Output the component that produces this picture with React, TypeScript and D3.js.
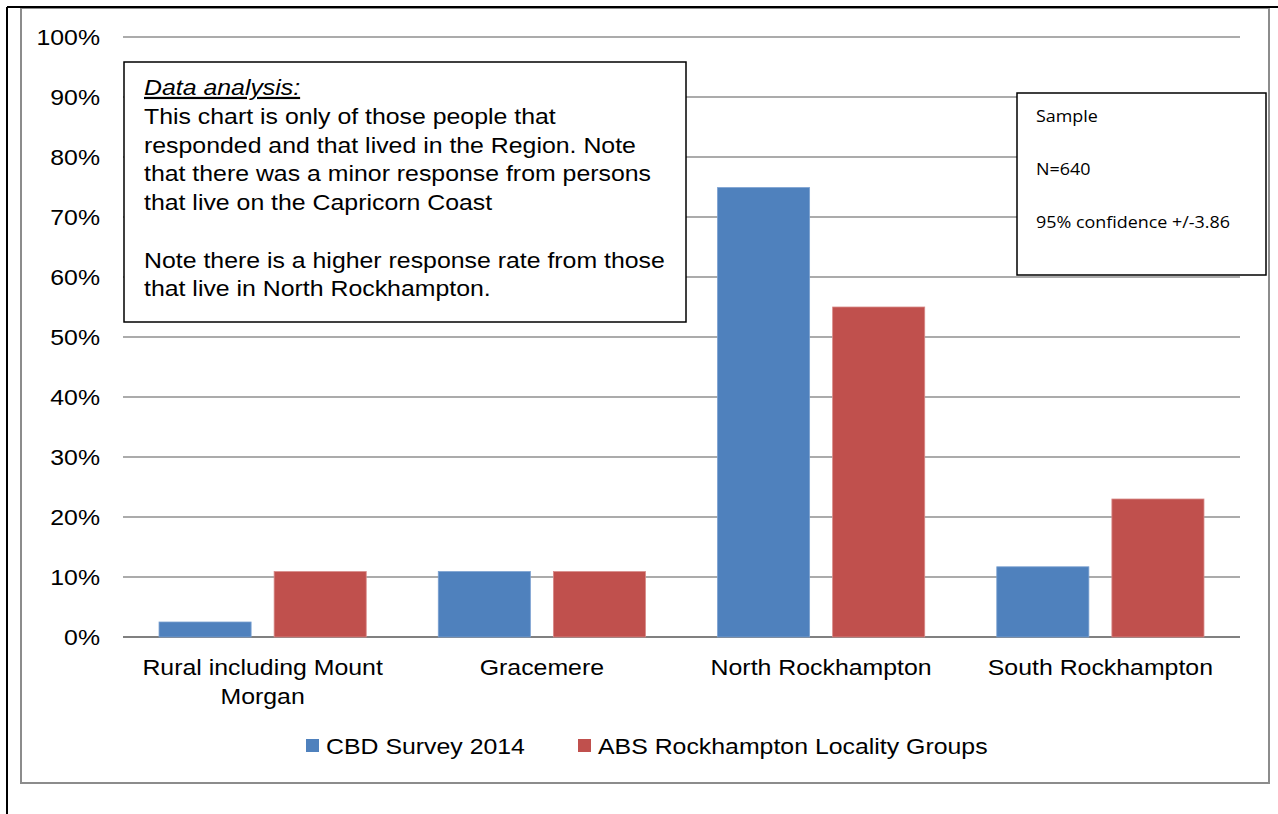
import React from "react";
import * as d3 from "d3";

const categories = ["Rural including Mount Morgan", "Gracemere", "North Rockhampton", "South Rockhampton"];
const categoryLines = [["Rural including Mount", "Morgan"], ["Gracemere"], ["North Rockhampton"], ["South Rockhampton"]];
const seriesNames = ["CBD Survey 2014", "ABS Rockhampton Locality Groups"];
const cbdSurvey = [2.5, 10.9, 74.9, 11.7];
const absLocality = [10.9, 10.9, 55.0, 23.0];
const yTicks = [0, 10, 20, 30, 40, 50, 60, 70, 80, 90, 100];
const colors = ["#4F81BD", "#C0504D"];
const noteLines = [
  "This chart is only of those people that",
  "responded and that lived in the Region. Note",
  "that there was a minor response from persons",
  "that live on the Capricorn Coast",
  "",
  "Note there is a higher response rate from those",
  "that live in North Rockhampton.",
];
const sampleLines = ["Sample", "N=640", "95% confidence +/-3.86"];

const SX = 1.13;

function T(props: any) {
  const { x, y, sx = SX, children, ...rest } = props;
  return (
    <text transform={`translate(${x},${y}) scale(${sx},1)`} x={0} y={0} {...rest}>
      {children}
    </text>
  );
}

export default function App() {
  const W = 1278, H = 814;
  const x0 = 123, x1 = 1240, yTop = 37, yBot = 637;
  const y = d3.scaleLinear().domain([0, 100]).range([yBot, yTop]);
  const xb = d3.scaleBand().domain(categories).range([x0, x1]).paddingInner(0).paddingOuter(0);
  const xs = d3.scaleBand().domain(seriesNames).range([0, xb.bandwidth()]).paddingInner(0.2).paddingOuter(0.313);
  const series = [cbdSurvey, absLocality];
  const font = "'Liberation Sans', Arial, sans-serif";

  return (
    <svg width={W} height={H} style={{ position: "absolute", left: 0, top: 0, background: "#fff" }} fontFamily={font}>
      <rect x={0} y={0} width={W} height={H} fill="#fff" />
      {/* chart border */}
      <rect x={21} y={8} width={1248} height={775} fill="none" stroke="#8c8c8c" strokeWidth={2} />
      {/* page frame */}
      <line x1={7} y1={7} x2={W} y2={7} stroke="#000" strokeWidth={2} />
      <line x1={7} y1={7} x2={7} y2={H} stroke="#000" strokeWidth={2} />
      {/* gridlines */}
      {yTicks.map((t) => (
        <g key={t}>
          <line x1={x0} x2={x1} y1={y(t)} y2={y(t)} stroke={t === 0 ? "#808080" : "#8f8f8f"} strokeWidth={t === 0 ? 2 : 1.5} />
          <T x={100} y={y(t)} dy="0.35em" textAnchor="end" fontSize={22} fill="#000">{t}%</T>
        </g>
      ))}
      {/* bars */}
      {categories.map((c, i) => (
        <g key={c}>
          {series.map((s, j) => (
            <rect key={j} x={(xb(c) as number) + (xs(seriesNames[j]) as number)} y={y(s[i])} width={xs.bandwidth()} height={yBot - y(s[i])} fill={colors[j]} stroke={j === 0 ? "#7aa0d0" : "#d88a88"} strokeWidth={0.8} />
          ))}
          {categoryLines[i].map((ln, k) => (
            <T key={k} x={(xb(c) as number) + xb.bandwidth() / 2} y={675 + k * 29} textAnchor="middle" fontSize={22} fill="#000">{ln}</T>
          ))}
        </g>
      ))}
      {/* legend */}
      <rect x={306} y={739} width={13} height={13} fill={colors[0]} />
      <T x={326} y={754} fontSize={22} fill="#000">{seriesNames[0]}</T>
      <rect x={578} y={739} width={13} height={13} fill={colors[1]} />
      <T x={598} y={754} fontSize={22} fill="#000">{seriesNames[1]}</T>
      {/* note box */}
      <rect x={124} y={62} width={562} height={260} fill="#fff" stroke="#000" strokeWidth={1.5} />
      <T x={144} y={95} fontSize={22} fontStyle="italic" textDecoration="underline" fill="#000">Data analysis:</T>
      {noteLines.map((ln, k) => (
        <T key={k} x={144} y={124 + k * 28.7} fontSize={22} fill="#000">{ln}</T>
      ))}
      {/* sample box */}
      <rect x={1017} y={93} width={249} height={182} fill="#fff" stroke="#000" strokeWidth={1.5} />
      {sampleLines.map((ln, k) => (
        <T key={k} x={1036} y={122 + k * 53} sx={1.12} fontSize={16} fontFamily="'Open Sans', 'Noto Sans', sans-serif" fill="#000">{ln}</T>
      ))}
    </svg>
  );
}
